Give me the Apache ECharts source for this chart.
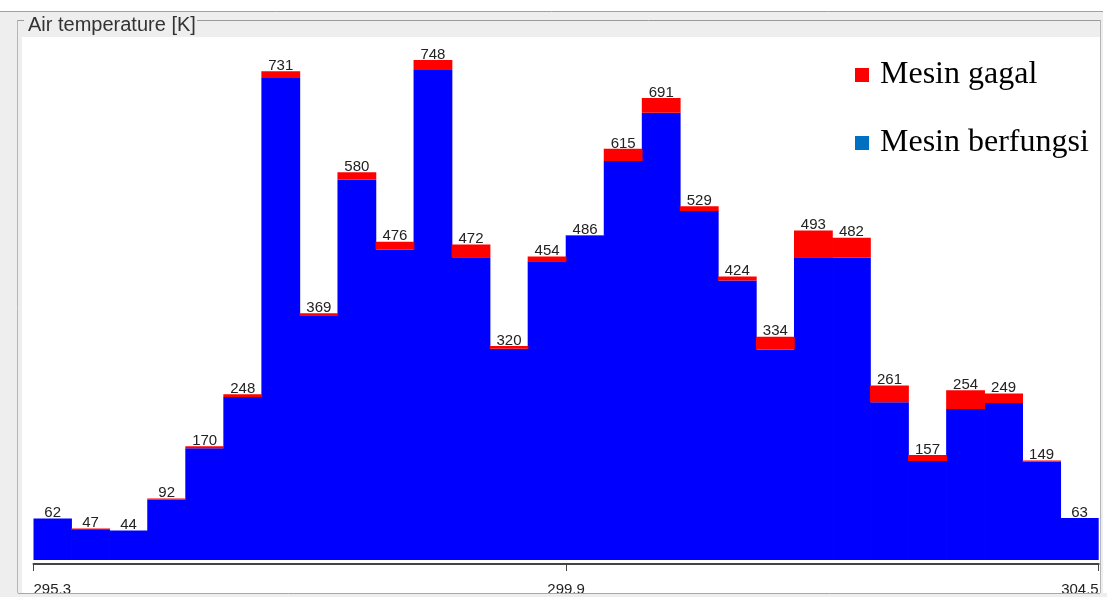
<!DOCTYPE html>
<html>
<head>
<meta charset="utf-8">
<title>Air temperature [K]</title>
<script src="https://cdn.jsdelivr.net/npm/echarts@6/dist/echarts.min.js"></script>
<style>
  html, body { margin: 0; padding: 0; background: #ffffff; }
  #main { width: 1107px; height: 597px; }
</style>
</head>
<body>
<div id="main"></div>
<script>
// histogram bins of air temperature, 295.3 .. 304.5 K
let bins = ["b1", "b2", "b3", "b4", "b5", "b6", "b7", "b8", "b9", "b10", "b11", "b12", "b13", "b14",
    "b15", "b16", "b17", "b18", "b19", "b20", "b21", "b22", "b23", "b24", "b25", "b26", "b27", "b28"];
let totals = [62, 47, 44, 92, 170, 248, 731, 369, 580, 476, 748, 472, 320, 454,
    486, 615, 691, 529, 424, 334, 493, 482, 261, 157, 254, 249, 149, 63];
let working = [62, 45, 44, 90, 167, 244, 721, 366, 569, 464, 733, 453, 316, 447,
    485, 597, 669, 522, 418, 315, 453, 452, 236, 148, 226, 235, 147, 63];
let failed = [0, 2, 0, 2, 3, 4, 10, 3, 11, 12, 15, 19, 4, 7,
    1, 18, 22, 7, 6, 19, 40, 30, 25, 9, 28, 14, 2, 0];
let tickValues = [295.3, 299.9, 304.5];
let tickLabels = ["295.3", "299.9", "304.5"];

let dom = document.getElementById("main");
let myChart = echarts.init(dom, null, {
    renderer: "canvas",
    useDirtyRect: false,
});
let option;

option = {
    animation: false,
    backgroundColor: "#ffffff",
    graphic: [
        // panel frame (swing-like titled border)
        { type: "rect", z: -10, silent: true, shape: { x: 0, y: 11, width: 1103, height: 586 },
          style: { fill: "#eeeeee" } },
        { type: "line", z: -9, silent: true, shape: { x1: 0, y1: 11.5, x2: 1103, y2: 11.5 },
          style: { stroke: "#a0a0a0", lineWidth: 1 } },
        { type: "rect", z: -9, silent: true, shape: { x: 22, y: 37, width: 1078, height: 557 },
          style: { fill: "#ffffff" } },
        { type: "line", z: -8, silent: true, shape: { x1: 17, y1: 20.5, x2: 24, y2: 20.5 },
          style: { stroke: "#9a9a9a", lineWidth: 1 } },
        { type: "line", z: -8, silent: true, shape: { x1: 197, y1: 20.5, x2: 1100, y2: 20.5 },
          style: { stroke: "#9a9a9a", lineWidth: 1 } },
        { type: "line", z: -8, silent: true, shape: { x1: 17.5, y1: 20, x2: 17.5, y2: 597 },
          style: { stroke: "#b5b5b5", lineWidth: 1 } },
        { type: "line", z: -8, silent: true, shape: { x1: 1100.5, y1: 20, x2: 1100.5, y2: 597 },
          style: { stroke: "#b5b5b5", lineWidth: 1 } },
        { type: "text", z: 5, silent: true, left: 28, top: 15,
          style: { text: "Air temperature [K]", fill: "#333333", font: "20px 'Liberation Sans'" } },
        // bottom strip that cuts the axis labels
        { type: "rect", z: 100, silent: true, shape: { x: 0, y: 593, width: 1107, height: 4 },
          style: { fill: "#eeeeee" } },
        { type: "line", z: 101, silent: true, shape: { x1: 18, y1: 593.5, x2: 1100, y2: 593.5 },
          style: { stroke: "#a8a8a8", lineWidth: 1 } },
    ],
    legend: {
        orient: "vertical",
        left: 850,
        top: 51,
        itemWidth: 14,
        itemHeight: 14,
        itemGap: 30,
        icon: "rect",
        textStyle: {
            fontFamily: "Liberation Serif",
            fontSize: 32,
            color: "#000000",
            lineHeight: 38,
            padding: [0, 0, 0, 6],
        },
        data: [
            { name: "Mesin gagal", itemStyle: { color: "#ff0000" } },
            { name: "Mesin berfungsi", itemStyle: { color: "#0070c0" } },
        ],
    },
    grid: {
        left: 33.5,
        right: 8.3,
        top: 25.2,
        bottom: 36.3,
    },
    xAxis: [{
        type: "category",
        data: bins,
        show: false,
        boundaryGap: true,
    }, {
        type: "value",
        position: "bottom",
        offset: 4,
        min: tickValues[0],
        max: tickValues[2],
        splitLine: { show: false },
        axisLine: { show: true, lineStyle: { color: "#444444", width: 2 } },
        axisTick: {
            show: true,
            length: 7,
            customValues: tickValues,
            lineStyle: { color: "#444444", width: 1 },
        },
        axisLabel: {
            customValues: tickValues,
            margin: 18,
            alignMinLabel: "left",
            alignMaxLabel: "right",
            color: "#222222",
            fontFamily: "Liberation Sans",
            fontSize: 15,
            formatter: function (v) {
                let i = tickValues.indexOf(v);
                return i >= 0 ? tickLabels[i] : "";
            },
        },
    }],
    yAxis: {
        type: "value",
        min: 0,
        max: 800,
        show: false,
    },
    series: [{
        name: "Mesin berfungsi",
        type: "bar",
        stack: "total",
        xAxisIndex: 0,
        data: working,
        barWidth: 38.8,
        itemStyle: { color: "#0000ff" },
    }, {
        name: "Mesin gagal",
        type: "bar",
        stack: "total",
        xAxisIndex: 0,
        data: failed,
        barWidth: 38.8,
        itemStyle: { color: "#ff0000" },
        label: {
            show: true,
            position: "top",
            distance: -2,
            color: "#222222",
            fontFamily: "Liberation Sans",
            fontSize: 15,
            formatter: function (p) {
                return String(totals[p.dataIndex]);
            },
        },
    }],
};

if (option && typeof option === "object") {
    myChart.setOption(option);
}

window.addEventListener("resize", myChart.resize);
</script>
</body>
</html>
